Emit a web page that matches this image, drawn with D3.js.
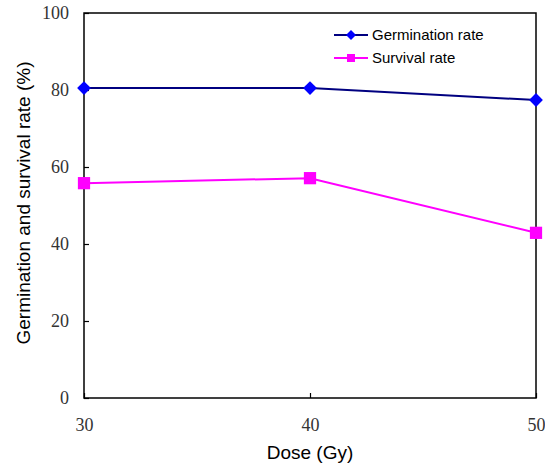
<!DOCTYPE html>
<html><head><meta charset="utf-8">
<script src="https://cdn.jsdelivr.net/npm/d3@7"></script>
<style>body{margin:0;background:#fff}</style></head>
<body><svg id="c" width="545" height="465"></svg>
<script>
const doses = [30, 40, 50];
const germination = [80.5, 80.5, 77.4];
const survival = [55.8, 57.1, 42.9];
const yTicks = [0, 20, 40, 60, 80, 100];
const xTicks = [30, 40, 50];

const svg = d3.select("#c");
const L = 84, R = 536, T = 13, B = 398;
const x = d3.scaleLinear().domain([30, 50]).range([L, R]);
const y = d3.scaleLinear().domain([0, 100]).range([B, T]);

svg.append("rect").attr("x", L).attr("y", T).attr("width", R - L).attr("height", B - T)
  .attr("fill", "none").attr("stroke", "#000").attr("stroke-width", 1.5);

const yAxis = d3.axisLeft(y).tickValues(yTicks).tickSizeInner(-5).tickSizeOuter(0).tickPadding(15);
const gy = svg.append("g").attr("transform", `translate(${L},0)`).call(yAxis);
gy.select(".domain").remove();
gy.selectAll("text").attr("font-family", "Liberation Serif, serif").attr("font-size", 18).attr("fill", "#333");
gy.selectAll("line").attr("stroke-width", 1.2);

const xAxis = d3.axisBottom(x).tickValues(xTicks).tickSizeInner(-5).tickSizeOuter(0).tickPadding(20);
const gx = svg.append("g").attr("transform", `translate(0,${B})`).call(xAxis);
gx.select(".domain").remove();
gx.selectAll("text").attr("font-family", "Liberation Serif, serif").attr("font-size", 18).attr("fill", "#333");
gx.selectAll("line").attr("stroke-width", 1.2);

const line = d3.line().x((d, i) => x(doses[i])).y(d => y(d));
svg.append("path").datum(germination).attr("d", line).attr("fill", "none").attr("stroke", "#000080").attr("stroke-width", 2);
svg.append("path").datum(survival).attr("d", line).attr("fill", "none").attr("stroke", "#FF00FF").attr("stroke-width", 2);

const diamond = d3.symbol().type(d3.symbolSquare).size(95);
svg.selectAll(".g").data(germination).enter().append("path")
  .attr("d", diamond).attr("fill", "#0000FF")
  .attr("transform", (d, i) => `translate(${x(doses[i])},${y(d)}) rotate(45)`);
const sq = d3.symbol().type(d3.symbolSquare).size(150);
svg.selectAll(".s").data(survival).enter().append("path")
  .attr("d", sq).attr("fill", "#FF00FF")
  .attr("transform", (d, i) => `translate(${x(doses[i])},${y(d)})`);

// legend
const leg = [{name: "Germination rate", line: "#000080", fill: "#0000FF", type: "d", y: 35},
             {name: "Survival rate", line: "#FF00FF", fill: "#FF00FF", type: "s", y: 58}];
leg.forEach(l => {
  svg.append("line").attr("x1", 334).attr("x2", 368).attr("y1", l.y).attr("y2", l.y).attr("stroke", l.line).attr("stroke-width", 2);
  if (l.type === "d") svg.append("path").attr("d", d3.symbol().type(d3.symbolSquare).size(50)).attr("fill", l.fill).attr("transform", `translate(351,${l.y}) rotate(45)`);
  else svg.append("path").attr("d", d3.symbol().type(d3.symbolSquare).size(64)).attr("fill", l.fill).attr("transform", `translate(351,${l.y})`);
  svg.append("text").attr("x", 372).attr("y", l.y + 5).attr("font-family", "Liberation Sans, Arial, sans-serif").attr("font-size", 15).attr("fill", "#000").text(l.name);
});

svg.append("text").attr("x", 310).attr("y", 459).attr("text-anchor", "middle")
  .attr("font-family", "Liberation Sans, Arial, sans-serif").attr("font-size", 19).text("Dose (Gy)");
svg.append("text").attr("transform", "translate(30,203) rotate(-90)").attr("text-anchor", "middle")
  .attr("font-family", "Liberation Sans, Arial, sans-serif").attr("font-size", 19).text("Germination and survival rate (%)");
</script></body></html>
